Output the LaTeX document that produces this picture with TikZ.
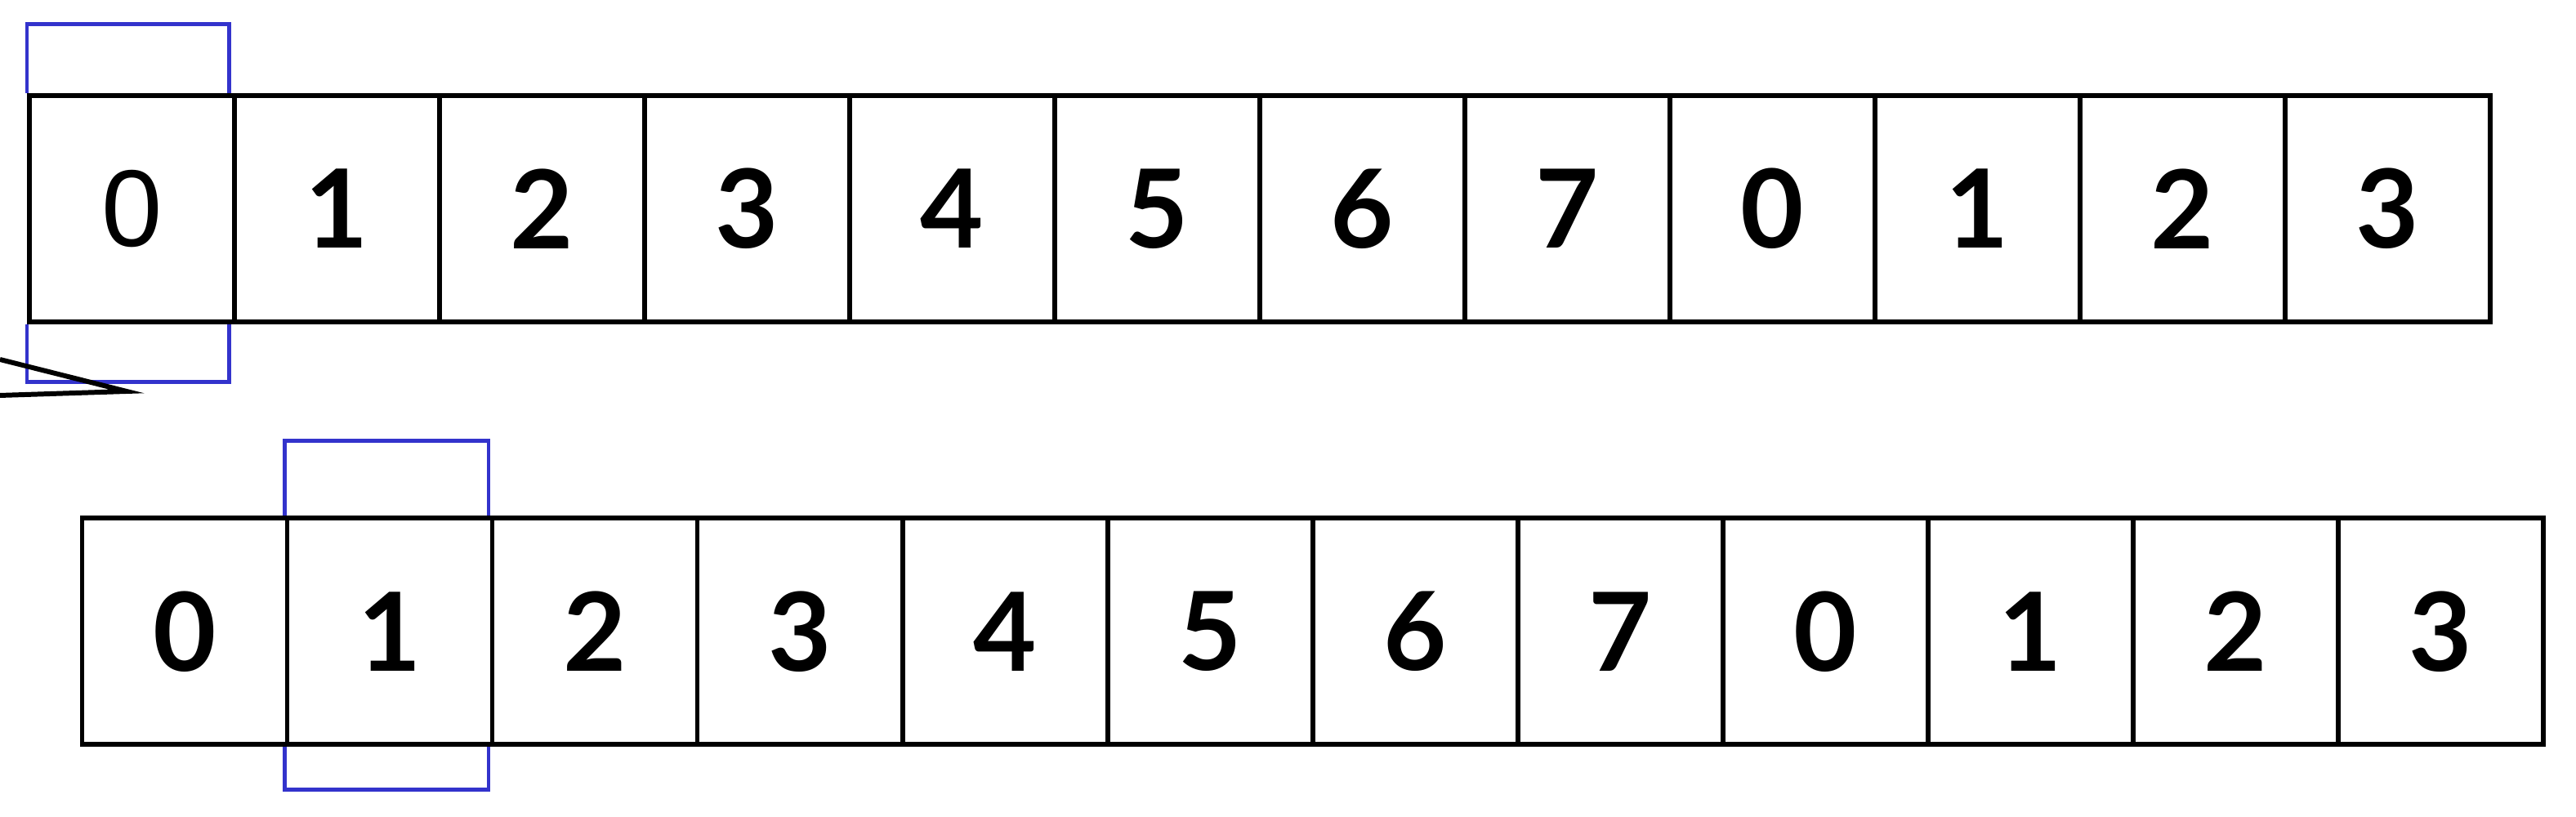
\documentclass[tikz,border=0pt]{standalone}
\usepackage{fontspec}
\setmainfont{Lato}
\newfontfamily\plainfont{Liberation Sans}
\usepackage{tikz}
\definecolor{winblue}{RGB}{51,51,204}

\begin{document}
\begin{tikzpicture}[
  cell/.style={draw,line width=1.7pt,minimum width=2.51cm,minimum height=2.77cm,
    inner sep=0pt,font=\fontsize{38}{44}\selectfont\bfseries},
  window/.style={draw=winblue,line width=1.4pt}]
  \useasboundingbox (0,0) rectangle (31.53,10);
  % top row, window on the first cell
  \foreach \d [count=\i from 0] in {0,1,2,3,4,5,6,7,0,1,2,3}
    \node[cell] (t\i) at (1.615+2.51*\i,7.447) {\ifnum\i=0 {\mdseries\plainfont 0}\else\d\fi};
  \draw[window] (t0.north west) -- ++(0,0.846) -| ([xshift=-0.095cm]t0.north east);
  \draw[window] (t0.south west) -- ++(0,-0.705) -| ([xshift=-0.095cm]t0.south east);
  \draw[line width=1.7pt] (0,5.6) -- (1.55,5.21) -- (0,5.16);
  % bottom row, window moved one cell on
  \foreach \d [count=\i from 0] in {0,1,2,3,4,5,6,7,0,1,2,3}
    \node[cell] (b\i) at (2.26+2.51*\i,2.27) {\d};
  \draw[window] (b1.north west) -- ++(0,0.92) -| ([xshift=-0.075cm]b1.north east);
  \draw[window] (b1.south west) -- ++(0,-0.52) -| ([xshift=-0.075cm]b1.south east);
\end{tikzpicture}
\end{document}
